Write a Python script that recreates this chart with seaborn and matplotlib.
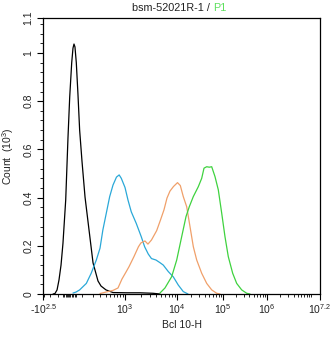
import numpy as np
import pandas as pd
import matplotlib
matplotlib.use("Agg")
import matplotlib.pyplot as plt
import seaborn as sns

# ---------------- data ----------------
black_x = [-157, -134, -111, -91, -71, -53, -28.5, -8.6, 4.9, 18.8, 27.9, 35, 42, 51.7, 64, 77,
           96, 122, 160, 204, 268, 314, 403, 567, 1093, 1942, 3454, 4710]
black_y = [0, 0.002, 0.017, 0.058, 0.12, 0.21, 0.39, 0.65, 0.817, 0.959, 1.02, 1.037, 1.025, 0.96, 0.83, 0.68,
           0.55, 0.402, 0.266, 0.129, 0.054, 0.033, 0.017, 0.006, 0.005, 0.005, 0.003, 0.0]

blue_x = [27.9, 49.6, 77, 134, 183, 245, 298, 345, 409, 483, 567, 669, 760, 840, 1000, 1142, 1322,
          1649, 2057, 2392, 2805, 3235, 3948, 4710, 5453, 6808, 8497, 10670, 13690, 17350]
blue_y = [0.004, 0.008, 0.017, 0.044, 0.086, 0.141, 0.19, 0.266, 0.335, 0.404, 0.452, 0.485, 0.494, 0.48,
          0.442, 0.39, 0.341, 0.293, 0.238, 0.196, 0.166, 0.147, 0.141, 0.13, 0.12, 0.093, 0.071, 0.037,
          0.01, 0.0]

orange_x = [298, 403, 567, 719, 867, 1045, 1194, 1489, 1818, 2031, 2426, 2768, 3235, 4074, 4819, 5623,
            6425, 7334, 8570, 10250, 11800, 13700, 16250, 19190, 22650, 26820, 34440, 44240, 56830,
            72980, 86170]
orange_y = [0.002, 0.008, 0.015, 0.025, 0.062, 0.091, 0.113, 0.155, 0.196, 0.212, 0.22, 0.207, 0.224,
            0.263, 0.307, 0.349, 0.398, 0.427, 0.446, 0.462, 0.45, 0.404, 0.362, 0.279, 0.196, 0.141,
            0.086, 0.044, 0.017, 0.003, 0.0]

green_x = [4710, 5875, 7907, 9870, 12650, 15690, 18500, 22600, 29020, 34440, 38640, 44240, 50370, 56790,
           66990, 79070, 93750, 110900, 131900, 166000, 204700, 265900, 345700, 411000]
green_y = [0.004, 0.025, 0.072, 0.141, 0.238, 0.321, 0.362, 0.404, 0.445, 0.48, 0.522, 0.528, 0.526,
           0.528, 0.487, 0.432, 0.335, 0.238, 0.155, 0.086, 0.044, 0.017, 0.003, 0.0]

samples = ["isotype", "sample_a", "sample_b", "sample_c"]
x_tick_values = [-10 ** 2.5, 1e3, 1e4, 1e5, 1e6, 10 ** 7.2]
x_tick_labels = [r"-$10^{2.5}$", r"$10^{3}$", r"$10^{4}$", r"$10^{5}$", r"$10^{6}$", r"$10^{7.2}$"]
y_tick_values = [0, 0.2, 0.4, 0.6, 0.8, 1.0, 1.145]
y_tick_labels = ["0", "0.2", "0.4", "0.6", "0.8", "1", "1.1"]

# ---------------- style ----------------
sns.set_style("ticks")
plt.rcParams["font.family"] = ["Liberation Sans", "DejaVu Sans"]
plt.rcParams["mathtext.default"] = "regular"

colors = {"isotype": "#000000", "sample_a": "#2aa8d8", "sample_b": "#f0a06a", "sample_c": "#3fd23f"}

# ---------------- biexponential-like display scale ----------------
C = 150.0
LN10 = np.log(10.0)
anchor_x = np.array([-10 ** 2.5, 0, 1e3, 1e4, 1e5, 1e6, 10 ** 7.2])
anchor_pos = np.array([0, 26, 82, 134, 180, 224, 277], float)
anchor_g = np.arcsinh(anchor_x / C) / LN10


def _lin(v, xp, fp):
    v = np.asarray(v, float)
    out = np.interp(v, xp, fp)
    s0 = (fp[1] - fp[0]) / (xp[1] - xp[0])
    s1 = (fp[-1] - fp[-2]) / (xp[-1] - xp[-2])
    out = np.where(v < xp[0], fp[0] + (v - xp[0]) * s0, out)
    out = np.where(v > xp[-1], fp[-1] + (v - xp[-1]) * s1, out)
    return out


def fwd(x):
    return _lin(np.arcsinh(np.asarray(x, float) / C) / LN10, anchor_g, anchor_pos)


def inv(p):
    g = np.clip(_lin(p, anchor_pos, anchor_g), -300, 300)
    return C * np.sinh(g * LN10)


# ---------------- figure ----------------
W, H = 334, 337
fig = plt.figure(figsize=(W / 100, H / 100), dpi=100)
ax = fig.add_axes([43 / W, 1 - 294 / H, 277 / W, 276 / H])
ax.set_xscale("function", functions=(fwd, inv))

frames = []
for name, xs, ys in [("isotype", black_x, black_y), ("sample_a", blue_x, blue_y),
                     ("sample_b", orange_x, orange_y), ("sample_c", green_x, green_y)]:
    frames.append(pd.DataFrame({"intensity": xs, "count": ys, "sample": name}))
df = pd.concat(frames, ignore_index=True)

sns.lineplot(data=df, x="intensity", y="count", hue="sample", hue_order=samples,
             palette=colors, legend=False, linewidth=0.9, estimator=None, sort=False, ax=ax)

ax.set_xlim(-10 ** 2.5, 10 ** 7.2)
ax.set_ylim(0, 1.145)

minor_x = ([-300, -200, -100] + list(range(-50, 51, 10)) + list(range(100, 1000, 100))
           + [k * 1e3 for k in range(2, 10)] + [k * 1e4 for k in range(2, 10)]
           + [k * 1e5 for k in range(2, 10)] + [k * 1e6 for k in range(2, 10)] + [1e7])
ax.set_xticks(x_tick_values)
ax.set_xticklabels(x_tick_labels)
ax.set_xticks(minor_x, minor=True)

ax.set_yticks(y_tick_values)
ax.set_yticklabels(y_tick_labels, rotation=90, va="center")
ax.set_yticks(list(np.arange(0, 1.145, 0.04)), minor=True)

ax.tick_params(axis="both", which="major", direction="out", length=4, width=0.8,
               labelsize=7.5, color="black", labelcolor="#222222")
ax.tick_params(axis="both", which="minor", direction="out", length=2, width=0.6, color="black")
ax.tick_params(axis="x", which="major", pad=2)
ax.tick_params(axis="y", which="major", pad=3)

for s in ax.spines.values():
    s.set_visible(True)
    s.set_color("black")
    s.set_linewidth(0.9)

ax.set_xlabel("Bcl 10-H", fontsize=7.5, color="#222222")
ax.set_ylabel(r"Count  (10$^{3}$)", fontsize=7.5, color="#222222")
ax.xaxis.set_label_coords(0.5, -(320 - 294) / 276)
ax.yaxis.set_label_coords(-(43 - 16) / 277, 0.5)

fig.text(213 / W, 1 - 8 / H, "bsm-52021R-1 / ", ha="right", va="center", fontsize=7.8, color="#222222")
fig.text(213 / W, 1 - 8 / H, "P1", ha="left", va="center", fontsize=7.8, color="#5ee05e")

fig.savefig("out.png", dpi=100)
